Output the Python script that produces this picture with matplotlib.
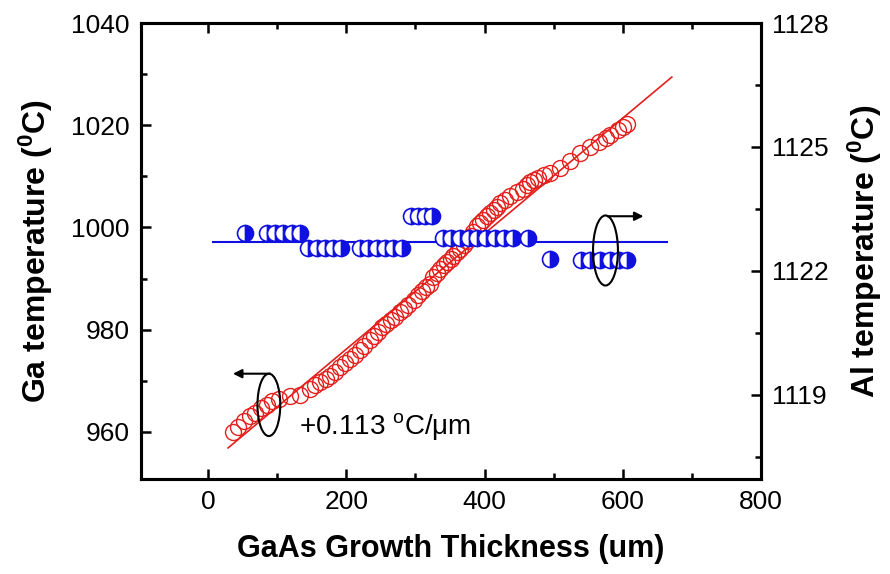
import matplotlib
matplotlib.use("Agg")
import matplotlib.pyplot as plt
from matplotlib.patches import Ellipse
from matplotlib.ticker import MultipleLocator

plt.rcParams['font.family'] = ['Liberation Sans', 'DejaVu Sans']
plt.rcParams['mathtext.fontset'] = 'custom'
plt.rcParams['mathtext.rm'] = 'Liberation Sans'
plt.rcParams['mathtext.it'] = 'Liberation Sans:italic'
plt.rcParams['mathtext.bf'] = 'Liberation Sans:bold'

# Ga cell temperature vs. grown thickness (left axis)
ga_thickness = [36, 44, 52, 60, 68, 76, 85, 93, 102, 118, 133, 148, 155, 162, 170,
                177, 184, 191, 198, 206, 213, 220, 226, 234, 240, 246, 252, 258,
                264, 270, 278, 284, 290, 298, 304, 310, 316, 321, 326, 331, 336,
                341, 346, 351, 355, 360, 365, 370, 375, 380, 384, 389, 394, 398,
                403, 408, 413, 418, 423, 430, 437, 447, 455, 462, 466, 472, 478,
                486, 495, 509, 524, 538, 553, 566, 576, 582, 593, 600, 606]
ga_temp = [960.0, 961.0, 962.2, 963.1, 963.8, 964.6, 965.3, 966.0, 966.4, 967.0,
           967.2, 968.4, 969.2, 969.8, 970.4, 971.0, 971.8, 972.7, 973.5, 974.3,
           975.1, 976.1, 976.8, 978.0, 978.8, 979.6, 980.5, 981.1, 981.9, 982.5,
           983.4, 984.1, 984.9, 985.9, 986.7, 987.5, 988.3, 989.0, 990.3, 991.0,
           991.9, 992.6, 993.3, 993.9, 994.5, 995.3, 995.8, 996.6, 997.3, 998.3,
           999.2, 1000.2, 1000.9, 1001.5, 1002.2, 1002.8, 1003.5, 1004.0, 1004.7,
           1005.4, 1006.1, 1006.9, 1007.6, 1008.3, 1008.8, 1009.2, 1009.7, 1010.2,
           1010.7, 1011.6, 1013.0, 1014.5, 1015.7, 1016.7, 1017.5, 1018.0, 1019.0,
           1019.7, 1020.2]

# Al cell temperature vs. grown thickness (right axis)
al_thickness = [54, 85, 97, 109, 121, 133, 145, 157, 169, 181, 193, 220, 232, 244,
                256, 268, 280, 293, 304, 314, 324, 340, 352, 364, 377, 389, 402,
                415, 428, 441, 463, 495, 540, 553, 567, 581, 595, 606]
al_temp = [1122.92, 1122.92, 1122.92, 1122.92, 1122.92, 1122.92,
           1122.56, 1122.56, 1122.56, 1122.56, 1122.56,
           1122.56, 1122.56, 1122.56, 1122.56, 1122.56, 1122.56,
           1123.32, 1123.32, 1123.32, 1123.32,
           1122.80, 1122.80, 1122.80, 1122.80, 1122.80, 1122.80, 1122.80,
           1122.80, 1122.80, 1122.80,
           1122.28, 1122.27, 1122.27, 1122.27, 1122.27, 1122.27, 1122.27]

# Linear fit of the Ga temperature and mean Al temperature
ga_slope = 0.113
ga_intercept = 953.6
ga_fit_range = [29, 671]
al_mean = 1122.70
al_fit_range = [7, 664]

x_ticks = [0, 200, 400, 600, 800]
ga_ticks = [960, 980, 1000, 1020, 1040]
al_ticks = [1119, 1122, 1125, 1128]

red = '#e3201c'
blue = '#1010e0'

fig = plt.figure(figsize=(8.9, 5.74), dpi=100)
ax = fig.add_axes([141 / 890, 95 / 574, 620 / 890, 456 / 574])
ax2 = ax.twinx()

ax.plot(ga_thickness, ga_temp, linestyle='none', marker='o', markersize=11.5,
        markerfacecolor='none', markeredgecolor=red, markeredgewidth=1.0, zorder=3)
ax.plot(ga_fit_range, [ga_intercept + ga_slope * v for v in ga_fit_range],
        color=red, lw=1.2, zorder=4)

ax2.plot(al_thickness, al_temp, linestyle='none', marker='o', markersize=11.5,
         fillstyle='right', markerfacecolor=blue, markerfacecoloralt='white',
         markeredgecolor=blue, markeredgewidth=1.2, zorder=3)
ax2.plot(al_fit_range, [al_mean, al_mean], color=blue, lw=1.5, zorder=2)

ax.set_xlim(-97, 800)
ax.set_ylim(950.8, 1040)
ax2.set_ylim(1116.96, 1128)

ax.set_xticks(x_ticks)
ax.set_yticks(ga_ticks)
ax2.set_yticks(al_ticks)
ax.xaxis.set_minor_locator(MultipleLocator(100))
ax.yaxis.set_minor_locator(MultipleLocator(10))
ax2.yaxis.set_minor_locator(MultipleLocator(1.5))

for a in (ax, ax2):
    for s in a.spines.values():
        s.set_linewidth(2.2)
ax.tick_params(which='both', direction='in', top=True, right=False,
               labelsize=19, width=1.8, pad=8)
ax.tick_params(which='major', length=7)
ax.tick_params(which='minor', length=4)
ax2.tick_params(which='both', direction='in', labelsize=19, width=1.8, pad=8)
ax2.tick_params(which='major', length=7)
ax2.tick_params(which='minor', length=4)

ax.set_xlabel('GaAs Growth Thickness (um)', fontsize=22, fontweight='bold', labelpad=14)
ax.set_ylabel(r'Ga temperature ($^{\mathbf{0}}$C)', fontsize=23, fontweight='bold', labelpad=12)
ax2.set_ylabel(r'Al temperature ($^{\mathbf{0}}$C)', fontsize=23, fontweight='bold', labelpad=12)

# Axis-assignment markers: ellipse around each data set with an arrow
ax2.add_patch(Ellipse((88, 965.3), 33, 12.2, transform=ax.transData,
                      fill=False, edgecolor='black', lw=1.5, zorder=6))
ax2.annotate('', xy=(36, 971.4), xytext=(90, 971.4), xycoords=ax.transData,
             textcoords=ax.transData,
             arrowprops=dict(arrowstyle='-|>', color='black', lw=1.5,
                             mutation_scale=13, shrinkA=0, shrinkB=0), zorder=6)
ax2.add_patch(Ellipse((575, 995.5), 36, 13.7, transform=ax.transData,
                      fill=False, edgecolor='black', lw=1.5, zorder=6))
ax2.annotate('', xy=(630, 1002.2), xytext=(578, 1002.2), xycoords=ax.transData,
             textcoords=ax.transData,
             arrowprops=dict(arrowstyle='-|>', color='black', lw=1.5,
                             mutation_scale=13, shrinkA=0, shrinkB=0), zorder=6)

ax2.text(132, 961, r'+0.113 $^{\mathrm{o}}$C/μm', transform=ax.transData,
         fontsize=20, ha='left', va='center', zorder=6)

fig.savefig('out.png', dpi=100)
